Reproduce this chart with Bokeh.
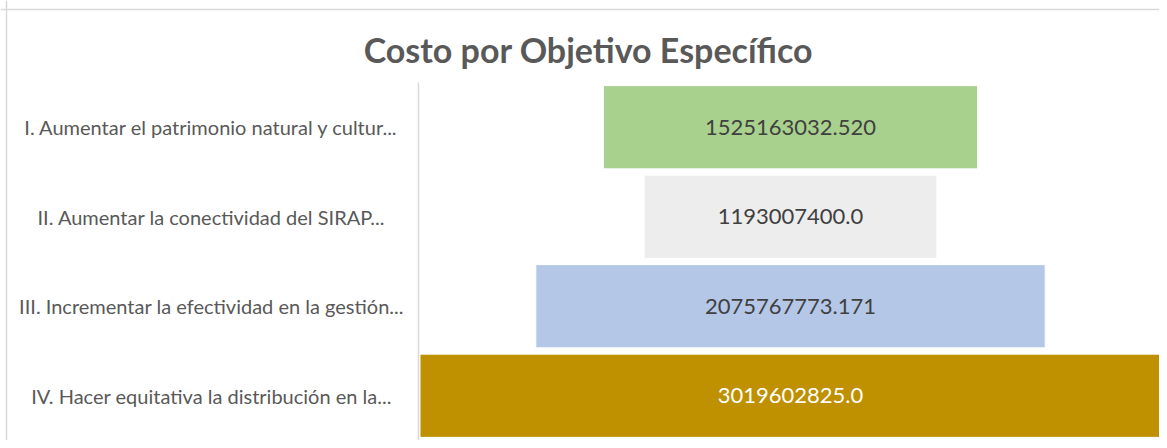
from bokeh.plotting import figure
from bokeh.models import ColumnDataSource, Range1d, Label, LabelSet, Span
from bokeh.core.properties import value
from bokeh.embed import file_html
from bokeh.resources import INLINE

categories = [
    "I. Aumentar el patrimonio natural y cultur...",
    "II. Aumentar la conectividad del SIRAP...",
    "III. Incrementar la efectividad en la gestión...",
    "IV. Hacer equitativa la distribución en la...",
]
costs = [1525163032.520, 1193007400.0, 2075767773.171, 3019602825.0]
value_labels = ["1525163032.520", "1193007400.0", "2075767773.171", "3019602825.0"]
colors = ["#a9d18e", "#ededed", "#b4c7e7", "#bf9000"]
text_colors = ["#404040", "#404040", "#404040", "#ffffff"]
title_text = "Costo por Objetivo Específico"

# layout (pixels)
W, H = 1159, 440
center_px = 790      # funnel centre
axis_px = 418        # category axis line
top_px = 82          # top of the category band area
units_per_px = 4.075e6

n = len(categories)
ypos = [n - 0.5 - i for i in range(n)]

src = ColumnDataSource(dict(
    y=ypos,
    left=[-c / 2 for c in costs],
    right=[c / 2 for c in costs],
    mid=[0.0] * n,
    cat=categories,
    lab=value_labels,
    color=colors,
    tcolor=text_colors,
))

x_start = -center_px * units_per_px
x_end = (W - center_px) * units_per_px
y_end = n * H / (H - top_px)

p = figure(width=W, height=H, output_backend="svg", toolbar_location=None,
           x_range=Range1d(x_start, x_end), y_range=Range1d(0, y_end),
           min_border_left=0, min_border_right=0, min_border_top=0, min_border_bottom=0)
p.outline_line_color = None
p.xgrid.visible = False
p.ygrid.visible = False
p.xaxis.visible = False
p.yaxis.fixed_location = (axis_px - center_px) * units_per_px
p.yaxis.bounds = (0, n)
p.yaxis.axis_line_color = "#d9d9d9"
p.yaxis.axis_line_width = 1.5
p.yaxis.major_tick_line_color = None
p.yaxis.minor_tick_line_color = None
p.yaxis.major_label_text_font_size = "0px"
p.yaxis.major_label_text_color = None

# outer chart border (top and left)
p.add_layout(Span(location=H - 9, location_units="screen", dimension="width",
                  line_color="#d9d9d9", line_width=1.5))
p.add_layout(Span(location=6, location_units="screen", dimension="height",
                  line_color="#d9d9d9", line_width=1.5))

p.hbar(y="y", left="left", right="right", height=0.93, fill_color="color",
       line_color="white", line_width=1, source=src)

p.text(x="mid", y="y", text="lab", text_color="tcolor", text_align="center",
       text_baseline="middle", text_font=value("Lato"), text_font_size="22px", source=src)

cat_labels = LabelSet(x=211, y="y", x_units="screen", text="cat", source=src,
                      text_align="center", text_baseline="middle",
                      text_font=value("Lato"), text_font_size="20px", text_color="#595959")
p.add_layout(cat_labels)

title = Label(x=588, y=H - 49, x_units="screen", y_units="screen", text=title_text,
              text_align="center", text_baseline="middle", text_font="Lato",
              text_font_size="34px", text_font_style="bold", text_color="#595959")
p.add_layout(title)

open("out.html", "w").write(file_html(p, INLINE))
